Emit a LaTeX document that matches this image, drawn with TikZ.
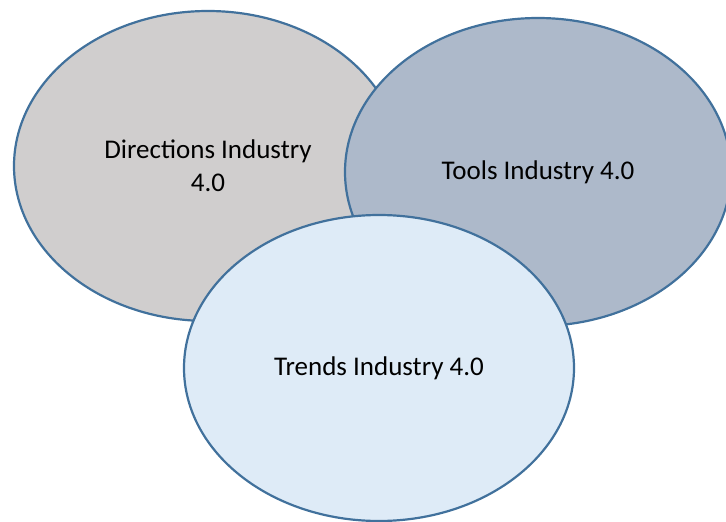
\documentclass[tikz,border=0pt]{standalone}
\usepackage{fontspec}
\setmainfont{Carlito}
\usetikzlibrary{shapes.geometric}
\definecolor{ringline}{HTML}{41719C}
\definecolor{fillgray}{HTML}{D0CECE}
\definecolor{fillslate}{HTML}{ADB9CA}
\definecolor{fillsky}{HTML}{DEEBF7}
\tikzset{
  bubble/.style={ellipse, draw=ringline, line width=2.2pt, inner sep=0pt,
    align=center, text=black,
    font=\fontsize{27}{33}\selectfont}
}
\begin{document}
\begin{tikzpicture}[x=1pt,y=-1pt]
\useasboundingbox (0,0) rectangle (726,522);
\node[bubble, fill=fillgray, minimum width=388pt, minimum height=310pt]
  (directions) at (208,166) {Directions Industry\\4.0};
\node[bubble, fill=fillslate, minimum width=386pt, minimum height=308pt]
  (tools) at (538,172) {Tools Industry 4.0};
\node[bubble, fill=fillsky, minimum width=390pt, minimum height=306pt]
  (trends) at (379,368) {Trends Industry 4.0};
\end{tikzpicture}
\end{document}
